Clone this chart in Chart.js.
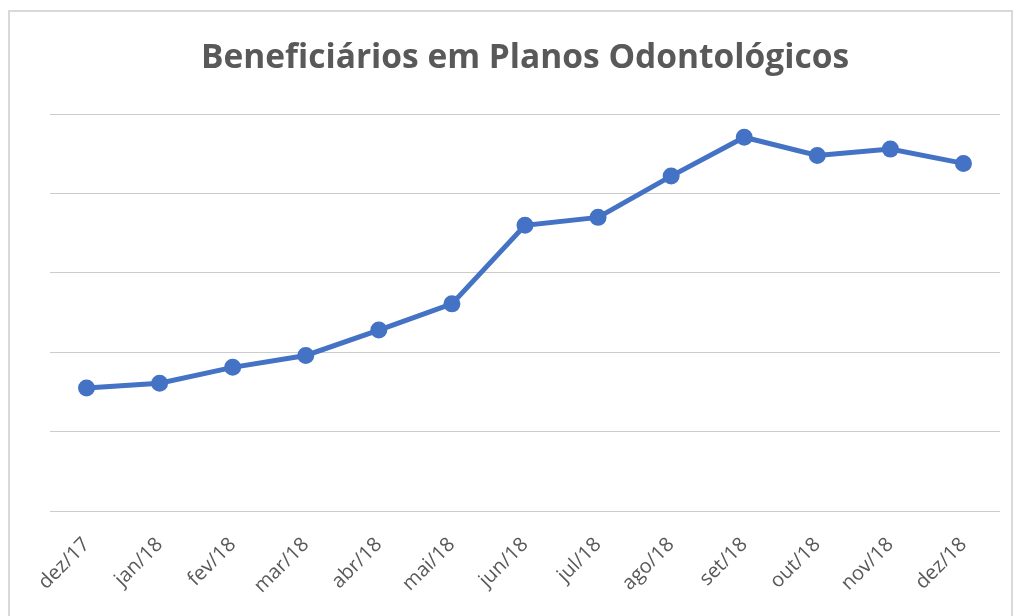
<!DOCTYPE html>
<html>
<head>
<meta charset="utf-8">
<script src="https://cdn.jsdelivr.net/npm/chart.js@4"></script>
<style>
  body { margin: 0; background: #fff; }
  #frame { position: absolute; left: 8px; top: 10px; width: 1001px; height: 620px; border: 2px solid #d9d9d9; }
  #wrap { position: absolute; left: 0; top: 0; width: 1019px; height: 616px; }
</style>
</head>
<body>
<div id="frame"></div>
<div id="wrap"><canvas id="lineChart"></canvas></div>
<script>
const months = ["dez/17", "jan/18", "fev/18", "mar/18", "abr/18", "mai/18", "jun/18",
  "jul/18", "ago/18", "set/18", "out/18", "nov/18", "dez/18"];
// relative values (no y labels shown)
const beneficiarios = [1.55, 1.61, 1.81, 1.96, 2.28, 2.61, 3.60, 3.70, 4.22, 4.71, 4.48, 4.56, 4.38];
const chartTitle = "Beneficiários em Planos Odontológicos";

let ctx = document.getElementById("lineChart").getContext("2d");
let myChart = new Chart(ctx, {
  type: "line",
  data: {
    labels: months,
    datasets: [
      {
        label: "Beneficiários",
        data: beneficiarios,
        borderColor: "#4472C4",
        backgroundColor: "#4472C4",
        borderWidth: 5,
        pointRadius: 6,
        pointHoverRadius: 6,
        tension: 0,
      },
    ],
  },
  options: {
    responsive: true,
    maintainAspectRatio: false,
    animation: false,
    layout: { padding: { top: 38, left: 50, right: 19, bottom: 0 } },
    plugins: {
      legend: { display: false },
      tooltip: { enabled: false },
      title: {
        display: true,
        text: chartTitle,
        color: "#595959",
        font: { family: "Open Sans", size: 33.5, weight: "bold" },
        padding: { top: 0, bottom: 36 },
      },
    },
    scales: {
      x: {
        offset: true,
        grid: { display: false },
        border: { display: false },
        ticks: {
          color: "#595959",
          font: { family: "Open Sans", size: 20 },
          minRotation: 45,
          maxRotation: 45,
          padding: 14,
        },
        afterFit: (scale) => { scale.height = 105; },
      },
      y: {
        min: 0,
        max: 5,
        ticks: { display: false, stepSize: 1 },
        border: { display: false },
        grid: { color: "#cccccc", lineWidth: 1, drawTicks: false, borderDash: [2, 1] },
        afterFit: (scale) => { scale.width = 0; },
      },
    },
  },
});
</script>
</body>
</html>
